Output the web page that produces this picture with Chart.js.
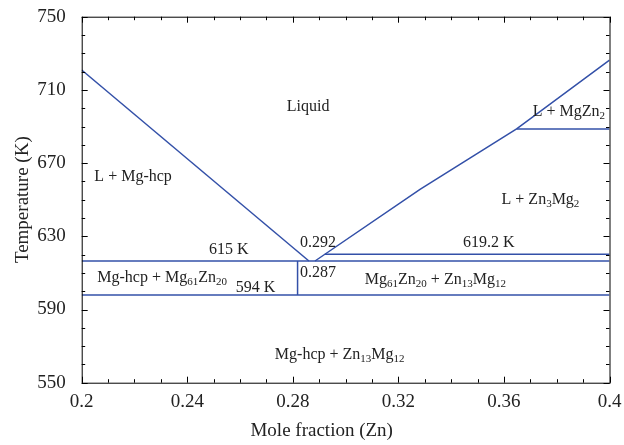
<!DOCTYPE html>
<html>
<head>
<meta charset="utf-8">
<script src="https://cdn.jsdelivr.net/npm/chart.js@4"></script>
<style>
  body { margin: 0; background: #fff; }
  canvas { display: block; }
</style>
</head>
<body>
<canvas id="phaseChart" width="624" height="445"></canvas>
<script>
// liquidus curves (mole fraction Zn, temperature K)
const leftLiquidusX = [0.2, 0.2861];
const leftLiquidusT = [720.9, 616.5];
const rightLiquidusX = [0.2884, 0.3282, 0.3648, 0.4];
const rightLiquidusT = [616.5, 655.7, 688.7, 726.3];

// horizontal reaction lines: [xStart, xEnd, T]
const isoLines = [
  [0.2, 0.4, 616.5],
  [0.2, 0.4, 597.9],
  [0.2921, 0.4, 620.2],
  [0.3648, 0.4, 688.7],
];

// vertical line at Mg61Zn20 composition
const compoundX = 0.2818;
const compoundT = [597.9, 616.5];

// region labels: pieces are [text, isSubscript]
const regionLabels = [
  { x: 0.2777, t: 700.7, parts: [["Liquid"]] },
  { x: 0.2048, t: 662.6, parts: [["L + Mg-hcp"]] },
  { x: 0.3709, t: 698.1, parts: [["L + MgZn"], ["2", true]] },
  { x: 0.3591, t: 649.8, parts: [["L + Zn"], ["3", true], ["Mg"], ["2", true]] },
  { x: 0.2482, t: 622.5, parts: [["615 K"]] },
  { x: 0.2059, t: 607.4, parts: [["Mg-hcp + Mg"], ["61", true], ["Zn"], ["20", true]] },
  { x: 0.2584, t: 601.9, parts: [["594 K"]] },
  { x: 0.2827, t: 626.2, parts: [["0.292"]] },
  { x: 0.2827, t: 609.8, parts: [["0.287"]] },
  { x: 0.3445, t: 626.2, parts: [["619.2 K"]] },
  { x: 0.3073, t: 606.1, parts: [["Mg"], ["61", true], ["Zn"], ["20", true], [" + Zn"], ["13", true], ["Mg"], ["12", true]] },
  { x: 0.2732, t: 565.1, parts: [["Mg-hcp + Zn"], ["13", true], ["Mg"], ["12", true]] },
];

const xTitle = "Mole fraction (Zn)";
const yTitle = "Temperature (K)";

const lineColor = "#3350a8";
const serif = '"Liberation Serif", "DejaVu Serif", serif';

function toPoints(xs, ts) {
  return xs.map((x, i) => ({ x: x, y: ts[i] }));
}

const datasets = [];
datasets.push({ data: toPoints(leftLiquidusX, leftLiquidusT) });
datasets.push({ data: toPoints(rightLiquidusX, rightLiquidusT) });
isoLines.forEach((l) => {
  datasets.push({ data: [{ x: l[0], y: l[2] }, { x: l[1], y: l[2] }] });
});
datasets.push({ data: [{ x: compoundX, y: compoundT[0] }, { x: compoundX, y: compoundT[1] }] });
datasets.forEach((d) => {
  d.showLine = true;
  d.borderColor = lineColor;
  d.borderWidth = 1.5;
  d.pointRadius = 0;
  d.fill = false;
});

// inward ticks on all four sides + region labels + x title
const innerTicks = {
  id: "innerTicks",
  afterDraw(chart) {
    const ctx = chart.ctx;
    const a = chart.chartArea;
    const xs = chart.scales.x;
    const ys = chart.scales.y;
    ctx.save();
    ctx.strokeStyle = "#000";
    ctx.lineWidth = 1;
    ctx.beginPath();
    for (let i = 0; i <= 20; i++) {
      const px = Math.round(xs.getPixelForValue(0.2 + i * 0.01)) + 0.5;
      const len = i % 4 === 0 ? 6 : 3.5;
      ctx.moveTo(px, a.bottom);
      ctx.lineTo(px, a.bottom - len);
      ctx.moveTo(px, a.top);
      ctx.lineTo(px, a.top + len);
    }
    for (let i = 0; i <= 20; i++) {
      const py = Math.round(ys.getPixelForValue(550 + i * 10)) + 0.5;
      const len = i % 4 === 0 ? 6 : 3.5;
      ctx.moveTo(a.left, py);
      ctx.lineTo(a.left + len, py);
      ctx.moveTo(a.right, py);
      ctx.lineTo(a.right - len, py);
    }
    ctx.stroke();
    ctx.strokeRect(a.left + 0.5, a.top + 0.5, a.right - a.left, a.bottom - a.top);

    ctx.fillStyle = "#222";
    ctx.textBaseline = "middle";
    ctx.textAlign = "left";
    regionLabels.forEach((lab) => {
      let px = xs.getPixelForValue(lab.x);
      const py = ys.getPixelForValue(lab.t);
      lab.parts.forEach((p) => {
        ctx.font = (p[1] ? "11px " : "16px ") + serif;
        ctx.fillText(p[0], px, p[1] ? py + 4.5 : py);
        px += ctx.measureText(p[0]).width;
      });
    });

    // x axis title sits a bit left of centre in the original
    ctx.font = "19px " + serif;
    ctx.textAlign = "center";
    ctx.fillText(xTitle, a.left + 240, a.bottom + 48);
    ctx.restore();
  },
};

new Chart(document.getElementById("phaseChart"), {
  type: "scatter",
  data: { datasets: datasets },
  options: {
    responsive: false,
    animation: false,
    devicePixelRatio: 1,
    layout: { padding: { top: 16.7, right: 14.5, left: 0, bottom: 0 } },
    plugins: { legend: { display: false }, tooltip: { enabled: false } },
    scales: {
      x: {
        type: "linear",
        min: 0.2,
        max: 0.4,
        border: { display: false },
        grid: { display: false, drawTicks: false },
        ticks: {
          stepSize: 0.04,
          padding: 8,
          color: "#222",
          font: { family: serif, size: 19 },
          callback: (v) => String(Math.round(v * 100) / 100),
        },
        afterFit: (s) => {
          s.height = 62.3;
          s.paddingLeft = 0;
          s.paddingRight = 0;
        },
      },
      y: {
        min: 550,
        max: 750,
        border: { display: false },
        grid: { display: false, drawTicks: false },
        ticks: {
          stepSize: 40,
          padding: 16,
          color: "#222",
          font: { family: serif, size: 19 },
        },
        title: {
          display: true,
          text: yTitle,
          color: "#222",
          font: { family: serif, size: 19 },
          padding: { top: 12, bottom: 0 },
        },
        afterFit: (s) => {
          s.width = 81.7;
          s.paddingTop = 0;
          s.paddingBottom = 0;
        },
      },
    },
  },
  plugins: [innerTicks],
});
</script>
</body>
</html>
